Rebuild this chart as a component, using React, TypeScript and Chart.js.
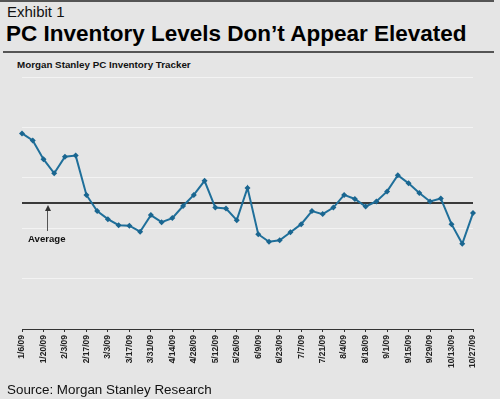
import React, { useEffect, useRef } from "react";
import { Chart, registerables } from "chart.js";

Chart.register(...registerables);

const weekDates: string[] = [
  "1/6/09", "1/13/09", "1/20/09", "1/27/09", "2/3/09", "2/10/09", "2/17/09", "2/24/09",
  "3/3/09", "3/10/09", "3/17/09", "3/24/09", "3/31/09", "4/7/09", "4/14/09", "4/21/09",
  "4/28/09", "5/5/09", "5/12/09", "5/19/09", "5/26/09", "6/2/09", "6/9/09", "6/16/09",
  "6/23/09", "6/30/09", "7/7/09", "7/14/09", "7/21/09", "7/28/09", "8/4/09", "8/11/09",
  "8/18/09", "8/25/09", "9/1/09", "9/8/09", "9/15/09", "9/22/09", "9/29/09", "10/6/09",
  "10/13/09", "10/20/09", "10/27/09",
];

const inventoryIndex: number[] = [
  3.88, 3.74, 3.37, 3.09, 3.42, 3.44, 2.66, 2.34, 2.18, 2.06, 2.05,
  1.93, 2.26, 2.12, 2.2, 2.44, 2.66, 2.94, 2.41, 2.39, 2.16, 2.8,
  1.88, 1.73, 1.76, 1.92, 2.08, 2.34, 2.28, 2.41, 2.66, 2.58, 2.43,
  2.53, 2.73, 3.05, 2.89, 2.7, 2.53, 2.59, 2.08, 1.69, 2.3,
];

const averageLevel = 2.5;
const yMin = 0;
const yMax = 5;

const FONT = "Arial, 'Liberation Sans', Helvetica, sans-serif";

export default function App() {
  const canvasRef = useRef<HTMLCanvasElement | null>(null);

  useEffect(() => {
    if (!canvasRef.current) return;
    const chart = new Chart(canvasRef.current, {
      type: "line",
      data: {
        labels: weekDates,
        datasets: [
          {
            label: "PC Inventory Tracker",
            data: inventoryIndex,
            borderColor: "#1f6f9a",
            backgroundColor: "#1a6690",
            borderWidth: 2,
            pointStyle: "rectRot",
            pointRadius: 3,
            pointBorderWidth: 0,
            tension: 0,
            order: 0,
          },
          {
            label: "Average",
            data: weekDates.map(() => averageLevel),
            borderColor: "#3a3a3a",
            borderWidth: 2,
            pointRadius: 0,
            order: 1,
          },
        ],
      },
      options: {
        responsive: false,
        animation: false,
        layout: { padding: { left: 22, right: 27, top: 77, bottom: 30 } },
        plugins: { legend: { display: false }, tooltip: { enabled: false }, title: { display: false } },
        scales: {
          x: {
            type: "category",
            offset: false,
            afterFit: (s: any) => { s.height = 40; },
            border: { display: true, color: "#333", width: 1 },
            grid: {
              drawOnChartArea: false,
              drawTicks: true,
              tickLength: 3,
              color: (ctx: any) => (ctx.index % 2 === 0 ? "#333" : "rgba(0,0,0,0)"),
            },
            ticks: {
              autoSkip: false,
              minRotation: 90,
              maxRotation: 90,
              padding: 3,
              color: "#222",
              font: { family: FONT, size: 8.5, weight: "bold" },
              callback: (_v: any, i: number) => (i % 2 === 0 ? weekDates[i] : ""),
            },
          },
          y: {
            min: yMin,
            max: yMax,
            afterFit: (s: any) => { s.width = 0; },
            border: { display: false },
            grid: { drawTicks: false, color: "rgba(255,255,255,0.55)", lineWidth: 1 },
            ticks: { display: false, stepSize: 1 },
          },
        },
      },
    });
    return () => chart.destroy();
  }, []);

  return (
    <div
      style={{
        position: "fixed",
        left: 0,
        top: 0,
        width: 500,
        height: 399,
        background: "#e5e5e5",
        overflow: "hidden",
        fontFamily: FONT,
      }}
    >
      <div style={{ position: "absolute", left: 0, top: 0, width: 494, height: 2, background: "#555" }} />
      <div style={{ position: "absolute", left: 7, top: 3, fontSize: 15, color: "#111", lineHeight: "18px" }}>
        Exhibit 1
      </div>
      <div
        style={{
          position: "absolute",
          left: 6,
          top: 21,
          fontSize: 22.5,
          fontWeight: "bold",
          color: "#000",
          lineHeight: "26px",
          whiteSpace: "nowrap",
        }}
      >
        PC Inventory Levels Don’t Appear Elevated
      </div>
      <div style={{ position: "absolute", left: 3, top: 51, width: 491, height: 2, background: "#555" }} />
      <div
        style={{
          position: "absolute",
          left: 17,
          top: 59,
          fontSize: 9.8,
          fontWeight: "bold",
          color: "#111",
          lineHeight: "12px",
          whiteSpace: "nowrap",
        }}
      >
        Morgan Stanley PC Inventory Tracker
      </div>
      <canvas ref={canvasRef} width={500} height={399} style={{ position: "absolute", left: 0, top: 0 }} />
      <div style={{ position: "absolute", left: 46.5, top: 209, width: 1.5, height: 22, background: "#555" }} />
      <div
        style={{
          position: "absolute",
          left: 44.5,
          top: 205,
          width: 0,
          height: 0,
          borderLeft: "3px solid transparent",
          borderRight: "3px solid transparent",
          borderBottom: "6px solid #333",
        }}
      />
      <div
        style={{
          position: "absolute",
          left: 28,
          top: 233,
          fontSize: 9.6,
          fontWeight: "bold",
          color: "#111",
          lineHeight: "12px",
        }}
      >
        Average
      </div>
      <div
        style={{
          position: "absolute",
          left: 7,
          top: 382,
          fontSize: 13.4,
          color: "#111",
          lineHeight: "16px",
          whiteSpace: "nowrap",
        }}
      >
        Source: Morgan Stanley Research
      </div>
    </div>
  );
}
